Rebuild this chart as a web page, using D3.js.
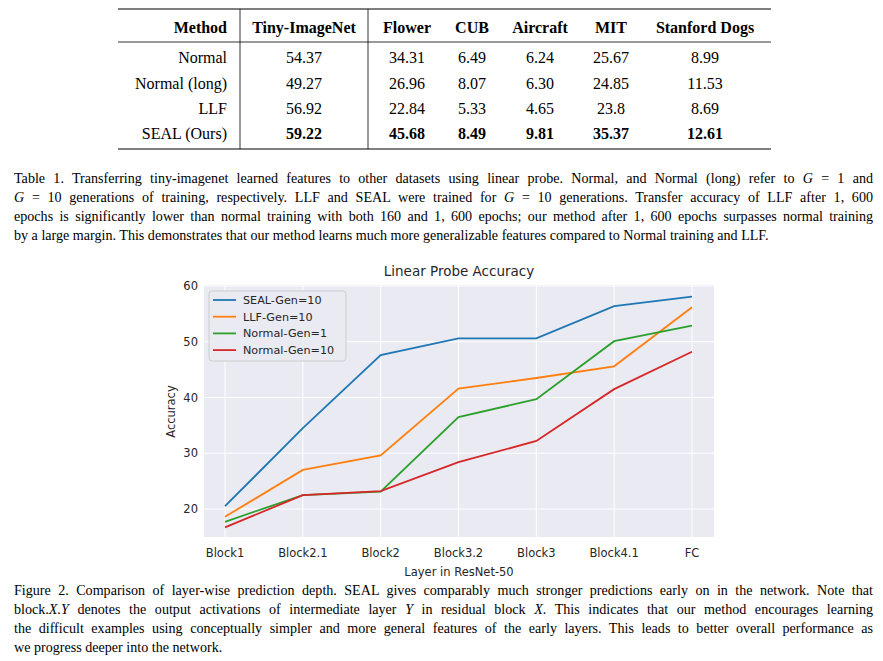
<!DOCTYPE html>
<html><head><meta charset="utf-8">
<script src="https://d3js.org/d3.v7.min.js"></script>
<style>
body{margin:0;background:#fff;width:883px;height:661px;position:relative;overflow:hidden;font-family:"Liberation Serif","Times New Roman",serif;color:#000}
.cap{position:absolute;left:14px;width:859px;font-size:14.1px;line-height:19px}
.cap div{text-align:justify;text-align-last:justify;white-space:nowrap}
.cap div.last{text-align-last:left}
</style></head><body>
<svg id="chart" width="883" height="661" style="position:absolute;left:0;top:0"></svg>
<div class="cap" id="cap1" style="top:169px"></div>
<div class="cap" id="cap2" style="top:581px"></div>
<script>
const methods=["Normal","Normal (long)","LLF","SEAL (Ours)"];
const columns=["Method","Tiny-ImageNet","Flower","CUB","Aircraft","MIT","Stanford Dogs"];
const tinyImageNet=["54.37","49.27","56.92","59.22"];
const flower=["34.31","26.96","22.84","45.68"];
const cub=["6.49","8.07","5.33","8.49"];
const aircraft=["6.24","6.30","4.65","9.81"];
const mit=["25.67","24.85","23.8","35.37"];
const dogs=["8.99","11.53","8.69","12.61"];

const layers=["Block1","Block2.1","Block2","Block3.2","Block3","Block4.1","FC"];
const seal=[20.5,34.5,47.6,50.6,50.6,56.4,58.1];
const llf=[18.6,27.0,29.6,41.6,43.5,45.6,56.2];
const normal1=[17.7,22.5,23.1,36.5,39.7,50.1,52.9];
const normal10=[16.7,22.5,23.2,28.4,32.2,41.5,48.2];
const seriesNames=["SEAL-Gen=10","LLF-Gen=10","Normal-Gen=1","Normal-Gen=10"];
const yTicks=[20,30,40,50,60];

const cap1=["Table 1. Transferring tiny-imagenet learned features to other datasets using linear probe. Normal, and Normal (long) refer to <i>G</i> = 1 and",
"<i>G</i> = 10 generations of training, respectively. LLF and SEAL were trained for <i>G</i> = 10 generations. Transfer accuracy of LLF after 1, 600",
"epochs is significantly lower than normal training with both 160 and 1, 600 epochs; our method after 1, 600 epochs surpasses normal training",
"by a large margin. This demonstrates that our method learns much more generalizable features compared to Normal training and LLF."];
const cap2=["Figure 2. Comparison of layer-wise prediction depth. SEAL gives comparably much stronger predictions early on in the network. Note that",
"block.<i>X.Y</i> denotes the output activations of intermediate layer <i>Y</i> in residual block <i>X</i>. This indicates that our method encourages learning",
"the difficult examples using conceptually simpler and more general features of the early layers. This leads to better overall performance as",
"we progress deeper into the network."];
function fillCap(id,lines){d3.select(id).selectAll("div").data(lines).join("div").attr("class",(d,i)=>i==lines.length-1?"last":null).html(d=>d);}
fillCap("#cap1",cap1);fillCap("#cap2",cap2);

const svg=d3.select("#chart");
const colX=[227,304,407,472,540,611,705];
const cols=[methods,tinyImageNet,flower,cub,aircraft,mit,dogs];
const rowY=[58,84,109,134];
const t=svg.append("g").attr("font-family","Liberation Serif, serif").attr("font-size",16);
t.append("line").attr("x1",118).attr("x2",771).attr("y1",9).attr("y2",9).attr("stroke","#000").attr("stroke-width",1.2);
t.append("line").attr("x1",118).attr("x2",771).attr("y1",42).attr("y2",42).attr("stroke","#000").attr("stroke-width",0.8);
t.append("line").attr("x1",118).attr("x2",771).attr("y1",149).attr("y2",149).attr("stroke","#000").attr("stroke-width",1.2);
[240,368].forEach(x=>t.append("line").attr("x1",x).attr("x2",x).attr("y1",9).attr("y2",149).attr("stroke","#000").attr("stroke-width",0.8));
columns.forEach((c,j)=>{
  t.append("text").attr("x",colX[j]).attr("y",33).attr("text-anchor",j==0?"end":"middle").attr("font-weight","bold").text(c);
  cols[j].forEach((v,i)=>t.append("text").attr("x",colX[j]).attr("y",rowY[i]+5).attr("text-anchor",j==0?"end":"middle")
    .attr("font-weight",(i==3&&j>0)?"bold":null).text(v));
});

const L=204,R=714,B=537;
const x=d3.scalePoint().domain(layers).range([225,692]);
const y=d3.scaleLinear().domain([20,60]).range([509,286]);
const c=svg.append("g").attr("font-family","DejaVu Sans, sans-serif");
c.append("rect").attr("x",L).attr("y",y(60)-1).attr("width",R-L).attr("height",B-y(60)+1).attr("fill","#EAEAF2");
c.selectAll(".gx").data(layers).join("line").attr("x1",d=>x(d)).attr("x2",d=>x(d)).attr("y1",y(60)-1).attr("y2",B).attr("stroke","#fff").attr("stroke-width",1);
c.selectAll(".gy").data(yTicks).join("line").attr("x1",L).attr("x2",R).attr("y1",d=>y(d)).attr("y2",d=>y(d)).attr("stroke","#fff").attr("stroke-width",1);
c.selectAll(".yt").data(yTicks).join("text").attr("x",L-6).attr("y",d=>y(d)+4).attr("text-anchor","end").attr("font-size",11.5).attr("fill","#262626").text(d=>d);
c.selectAll(".xt").data(layers).join("text").attr("x",d=>x(d)).attr("y",B+20).attr("text-anchor","middle").attr("font-size",11.5).attr("fill","#262626").text(d=>d);
c.append("text").attr("x",(L+R)/2).attr("y",B+39).attr("text-anchor","middle").attr("font-size",11.5).attr("fill","#262626").text("Layer in ResNet-50");
c.append("text").attr("transform",`translate(175,${(y(60)+B)/2}) rotate(-90)`).attr("text-anchor","middle").attr("font-size",11.5).attr("fill","#262626").text("Accuracy");
c.append("text").attr("x",(L+R)/2).attr("y",276).attr("text-anchor","middle").attr("font-size",13.5).attr("fill","#262626").text("Linear Probe Accuracy");
const colors=["#1f77b4","#ff7f0e","#2ca02c","#d62728"];
const data=[seal,llf,normal1,normal10];
const line=d3.line().x((d,i)=>x(layers[i])).y(d=>y(d));
data.forEach((s,k)=>c.append("path").attr("d",line(s)).attr("fill","none").attr("stroke",colors[k]).attr("stroke-width",1.8));
const lg=c.append("g");
lg.append("rect").attr("x",209).attr("y",291).attr("width",137).attr("height",70).attr("rx",3).attr("fill","#EAEAF2").attr("stroke","#cccccc").attr("opacity",0.9);
seriesNames.forEach((n,k)=>{const yy=300+k*16.7;
  lg.append("line").attr("x1",213).attr("x2",236).attr("y1",yy).attr("y2",yy).attr("stroke",colors[k]).attr("stroke-width",1.8);
  lg.append("text").attr("x",243).attr("y",yy+4).attr("font-size",11.2).attr("fill","#262626").text(n);});
</script></body></html>
